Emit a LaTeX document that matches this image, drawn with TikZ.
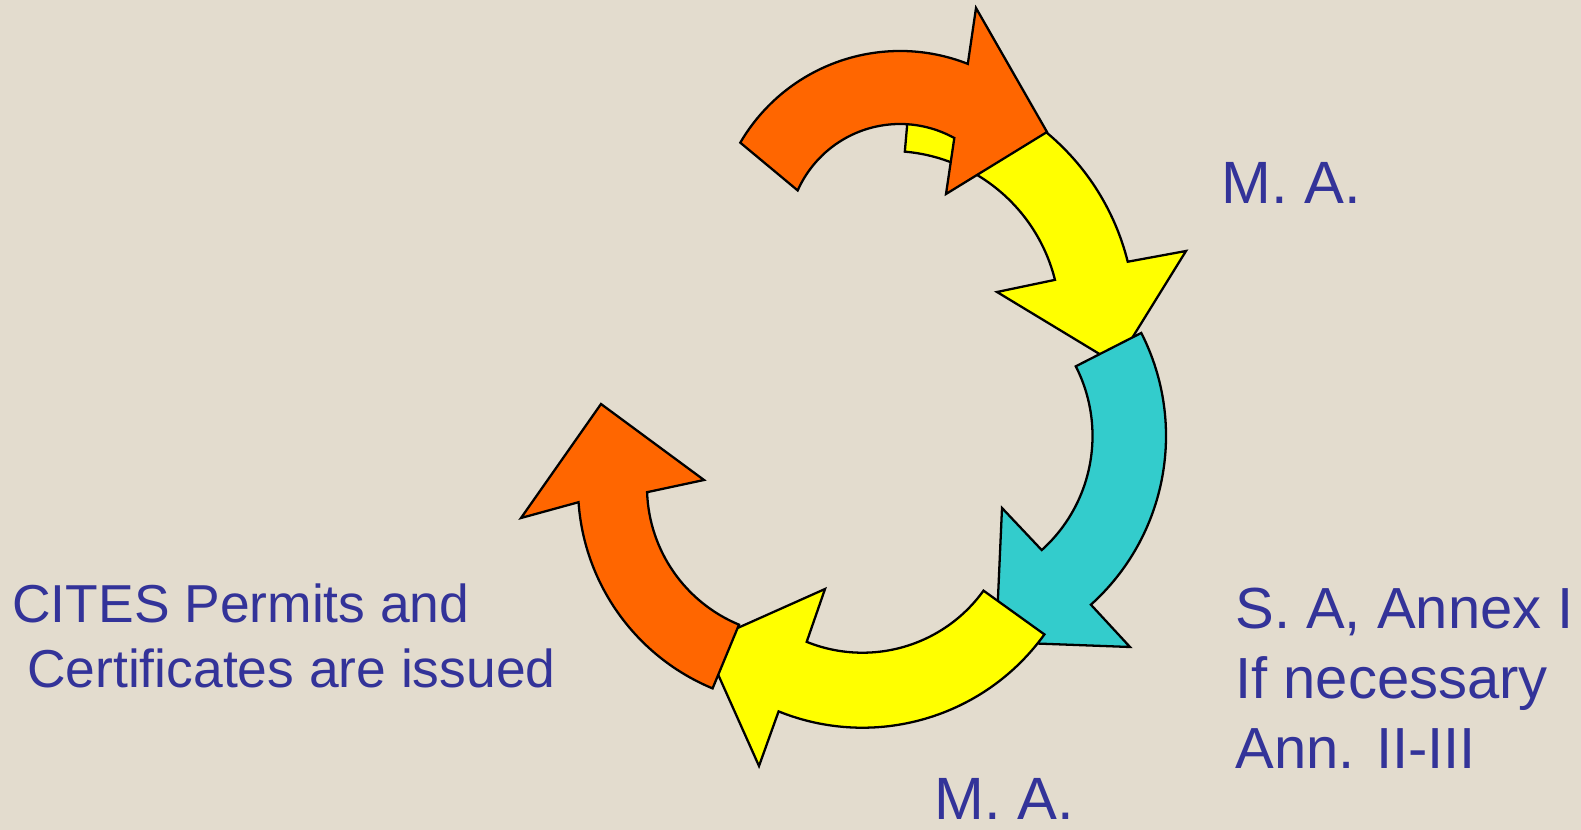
\documentclass[tikz,border=0pt]{standalone}
\usepackage{fontspec}
\setmainfont{Liberation Sans}

\definecolor{paper}{RGB}{227,220,206}
\definecolor{citesblue}{RGB}{51,51,153}
\definecolor{arroworange}{RGB}{255,102,0}
\definecolor{arrowyellow}{RGB}{255,255,0}
\definecolor{arrowcyan}{RGB}{51,204,204}

\tikzset{
    band/.style={draw=black, line width=1.3pt, line join=miter, fill=#1},
    tagtext/.style={text=citesblue, inner sep=0pt, anchor=base west, align=left,
        font=\fontsize{33}{39.7}\selectfont}
}

\begin{document}
\begin{tikzpicture}[x=0.02cm, y=-0.02cm]

    \fill[paper] (0,0) rectangle (1581,830);
    \useasboundingbox (0,0) rectangle (1581,830);

    \coordinate (ytr) at (890,321);
    \coordinate (cyc) at (939,436);
    \coordinate (ybc) at (862.5,503.7);
    \coordinate (olc) at (796,487);
    \coordinate (otc) at (900,236);

    \draw[band=arrowyellow] ([shift={(275:245)}]ytr)
        arc[start angle=275, end angle=346, radius=245]
        -- (1186,251) -- (1116,364) -- (997,292)
        -- ([shift={(346:170)}]ytr)
        arc[start angle=346, end angle=275, radius=170] -- cycle;
    \draw[band=arrowcyan] ([shift={(333:227)}]cyc)
        arc[start angle=333, end angle=408, radius=227]
        -- (1130,647) -- (996,642) -- (1002,508)
        -- ([shift={(48:153.5)}]cyc)
        arc[start angle=48, end angle=-27, radius=153.5] -- cycle;
    \draw[band=arrowyellow] ([shift={(35.7:224)}]ybc)
        arc[start angle=35.7, end angle=112, radius=224]
        -- (759,766) -- (704,643) -- (825,589)
        -- ([shift={(112:149)}]ybc)
        arc[start angle=112, end angle=35.7, radius=149] -- cycle;
    \draw[band=arroworange] ([shift={(112.5:218)}]olc)
        arc[start angle=112.5, end angle=176, radius=218]
        -- (521,518) -- (601,404) -- (704,480)
        -- ([shift={(178:149)}]olc)
        arc[start angle=178, end angle=112.5, radius=149] -- cycle;
    \draw[band=arroworange] ([shift={(210.3:185)}]otc)
        arc[start angle=210.3, end angle=291.5, radius=185]
        -- (976,8) -- (1047,132) -- (946,194)
        -- ([shift={(299:112)}]otc)
        arc[start angle=299, end angle=204, radius=112] -- cycle;

    \node[tagtext, font=\fontsize{34}{40}\selectfont] (matop) at (1221,204) {M. A.};
    \node[tagtext, font=\fontsize{34}{40}\selectfont] (mabottom) at (934,819) {M. A.};
    \node[tagtext] (sareview) at (1235,768) {S. A, Annex I\\If necessary\\Ann. II-III};
    \node[tagtext, font=\fontsize{30.4}{36.9}\selectfont] (permits) at (12,687)
        {CITES Permits and\\\ Certificates are issued};

\end{tikzpicture}
\end{document}
